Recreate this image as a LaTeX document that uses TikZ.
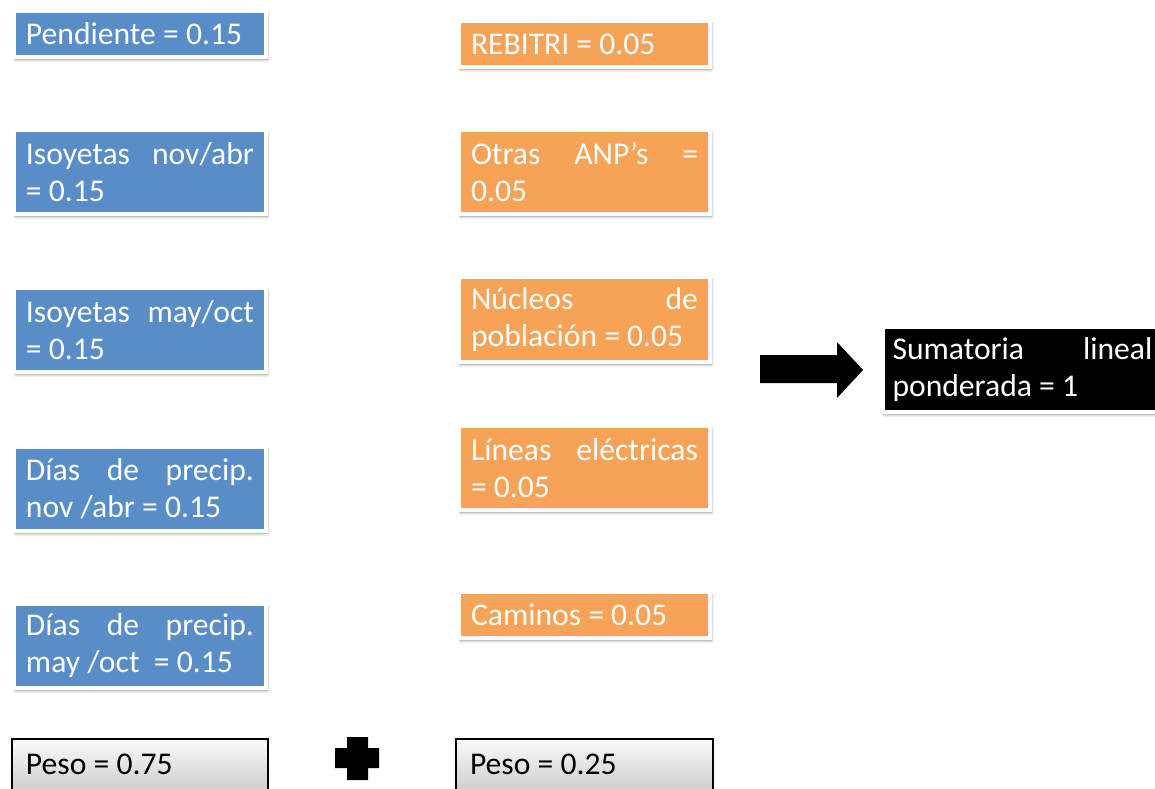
\documentclass[tikz,border=0pt]{standalone}
\usepackage{fontspec}
\setmainfont{Carlito}
\usetikzlibrary{shadows.blur}
\definecolor{factorblue}{RGB}{88,141,200}
\definecolor{factororange}{RGB}{247,163,87}
\tikzset{factor/.style={anchor=north west, draw=white, line width=2.4pt, text=white,
    outer sep=0pt, inner xsep=0.24cm, inner ysep=0pt, align=justify,
    font={\fontsize{18}{21}\selectfont\hyphenpenalty10000 },
    blur shadow={shadow xshift=0.8pt, shadow yshift=-1.4pt, shadow blur radius=1.6pt,
      shadow blur steps=6, shadow opacity=45}},
  bluefactor/.style={factor, fill=factorblue, text width=4.56cm, minimum height=#1},
  orangefactor/.style={factor, fill=factororange, text width=4.54cm, minimum height=#1},
  pesobox/.style={anchor=north west, draw=black, line width=0.7pt, outer sep=0pt,
    top color=gray!4, bottom color=gray!38, inner xsep=0.28cm, text width=#1,
    align=flush left, minimum height=1.02cm, font={\fontsize{18}{21}\selectfont}}
}

\begin{document}
\begin{tikzpicture}[x=0.02cm, y=-0.02cm]
                \useasboundingbox (0,0) rectangle (1155,788);
                
                % Peso 0.75 column
                \node[bluefactor=0.92cm] (pend) at (14,11) {Pendiente = 0.15};
                \node[bluefactor=1.68cm] (isonov) at (14,130) {Isoyetas~nov/abr\linebreak = 0.15};
                \node[bluefactor=1.68cm] (isomay) at (14,288) {Isoyetas~may/oct\linebreak = 0.15};
                \node[bluefactor=1.68cm] (diasnov) at (14,447) {Días~de~precip.\linebreak nov /abr = 0.15};
                \node[bluefactor=1.68cm] (diasmay) at (14,604) {Días~de~precip.\linebreak may /oct\ \ = 0.15};
                
                % Peso 0.25 column
                \node[orangefactor=0.92cm] (rebitri) at (459,21) {REBITRI = 0.05};
                \node[orangefactor=1.68cm] (anp) at (459,130) {Otras~ANP’s~=\linebreak 0.05};
                \node[orangefactor=1.70cm] (nucleos) at (459,277) {Núcleos~de\linebreak población = 0.05};
                \node[orangefactor=1.68cm] (lineas) at (459,426) {Líneas~eléctricas\linebreak = 0.05};
                \node[orangefactor=0.92cm] (caminos) at (459,592) {Caminos = 0.05};
                
                % Weights
                \node[pesobox=4.56cm] (peso75) at (12,739) {Peso = 0.75};
                \node[pesobox=4.58cm] (peso25) at (456,739) {Peso = 0.25};
                \fill (347,737) -- (368,737) -- (368,748) -- (379,748) -- (379,768) -- (368,768)
                    -- (368,780) -- (347,780) -- (347,768) -- (335,768) -- (335,748) -- (347,748) -- cycle;
                
                % Result
                \fill (760,355) -- (837,355) -- (837,342) -- (863,370) -- (837,398) -- (837,383) -- (760,383) -- cycle;
                \node[factor, fill=black, text width=5.2cm, inner xsep=0.19cm, minimum height=1.7cm] (suma) at (883,327)
                    {Sumatoria~lineal\linebreak ponderada = 1};
            \end{tikzpicture}
\end{document}
